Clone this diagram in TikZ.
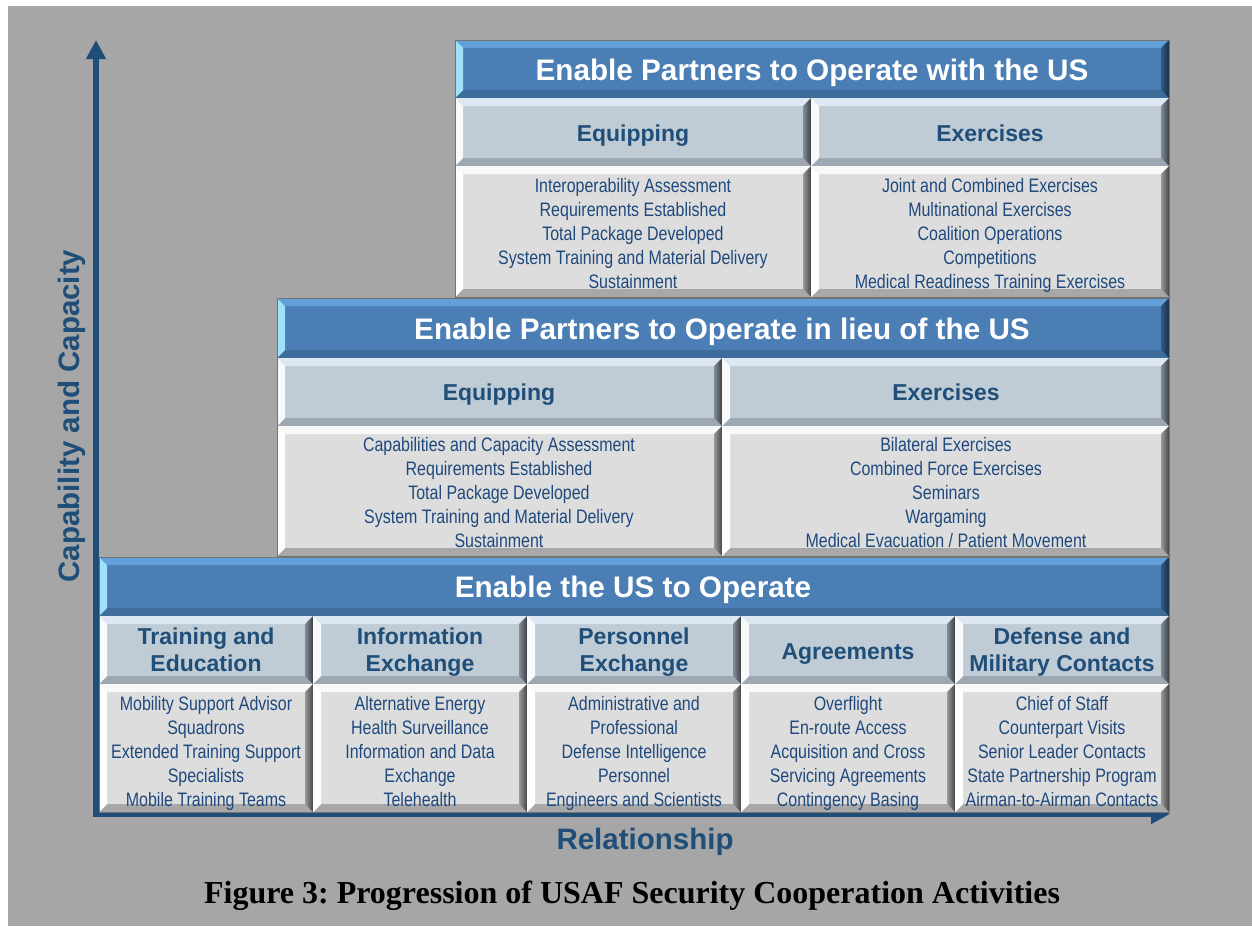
\documentclass[tikz,border=0pt]{standalone}
\usepackage{fontspec}
\setmainfont{Liberation Sans}
\newfontfamily\narrowfont[FakeStretch=0.82]{Liberation Sans}
\newfontfamily\capfont{Liberation Serif}
\usetikzlibrary{arrows.meta}

\definecolor{bggray}{RGB}{166,166,166}
\definecolor{axisblue}{RGB}{31,78,121}
\definecolor{itemblue}{RGB}{31,73,125}
% title bars
\definecolor{titlefill}{RGB}{74,126,180}
\definecolor{titletop}{RGB}{98,160,218}
\definecolor{titleleft}{RGB}{160,225,250}
\definecolor{titleright}{RGB}{24,46,70}
\definecolor{titlebot}{RGB}{62,108,155}
% column heads
\definecolor{headfill}{RGB}{191,203,213}
\definecolor{headtop}{RGB}{222,232,244}
\definecolor{headleft}{RGB}{248,250,252}
\definecolor{headright}{RGB}{60,64,70}
\definecolor{headbot}{RGB}{158,168,178}
% item cells
\definecolor{bodyfill}{RGB}{221,221,221}
\definecolor{bodytop}{RGB}{248,248,248}
\definecolor{bodyleft}{RGB}{255,255,255}
\definecolor{bodyright}{RGB}{70,70,70}
\definecolor{bodybot}{RGB}{168,168,168}

% bevelled cell: x1, y1 (top), x2, y2 (bottom), colour set
\def\bv{8}
\newcommand{\bevelcell}[5]{%
  \fill[#5fill] (#1,#2) rectangle (#3,#4);
  \fill[#5top] (#1,#2) -- (#3,#2) -- (#3-\bv,#2+\bv) -- (#1+\bv,#2+\bv) -- cycle;
  \fill[#5bot] (#1,#4) -- (#3,#4) -- (#3-\bv,#4-\bv) -- (#1+\bv,#4-\bv) -- cycle;
  \fill[#5left] (#1,#2) -- (#1+\bv,#2+\bv) -- (#1+\bv,#4-\bv) -- (#1,#4) -- cycle;
  \shade[left color=#5right!45!#5fill, right color=#5right]
    (#3,#2) -- (#3-\bv,#2+\bv) -- (#3-\bv,#4-\bv) -- (#3,#4) -- cycle;
}

\tikzset{
  strutted/.style={execute at begin node=\strut, execute at end node=\strut},
  bartitle/.style={font=\bfseries\fontsize{29.7}{32}\selectfont, text=white, inner sep=0, strutted},
  colhead/.style={font=\bfseries\fontsize{23}{27}\selectfont, text=axisblue, align=center, inner sep=0, strutted},
  itemlist/.style={font=\narrowfont\fontsize{19.5}{24}\selectfont, text=itemblue, align=center, inner sep=0, strutted},
  axislabel/.style={font=\bfseries\fontsize{29.5}{32}\selectfont, text=axisblue, inner sep=0},
  tierline/.style={draw=black!55, line width=1pt},
  axis/.style={draw=axisblue, line width=6pt, line join=miter,
    {Triangle[width=19pt,length=19pt]}-{Triangle[width=19pt,length=19pt]}},
}

\begin{document}
\begin{tikzpicture}[x=1pt,y=-1pt]
  \useasboundingbox (0,0) rectangle (1252,926);
  \fill[white] (0,0) rectangle (1252,926);
  \fill[bggray] (8,6) rectangle (1252,926);

  % axes
  \coordinate (origin) at (96,814);
  \coordinate (xtip) at (1170,814);
  \coordinate (ytip) at (96,40);
  \draw[axis] (xtip) -- (origin) -- (ytip);

  % top tier
  \bevelcell{455}{40}{1169}{98}{title}
  \bevelcell{455}{98}{811}{166}{head}
  \bevelcell{811}{98}{1169}{166}{head}
  \bevelcell{455}{166}{811}{297}{body}
  \bevelcell{811}{166}{1169}{297}{body}
  \draw[tierline] (455,40) rectangle (1169,297);

  % middle tier
  \bevelcell{277}{298}{1169}{358}{title}
  \bevelcell{277}{358}{722}{426}{head}
  \bevelcell{722}{358}{1169}{426}{head}
  \bevelcell{277}{426}{722}{556}{body}
  \bevelcell{722}{426}{1169}{556}{body}
  \draw[tierline] (277,298) rectangle (1169,556);

  % bottom tier
  \bevelcell{99}{557}{1169}{616}{title}
  \foreach \xa/\xb in {99/313, 313/527, 527/741, 741/955, 955/1169} {
    \bevelcell{\xa}{616}{\xb}{684}{head}
    \bevelcell{\xa}{684}{\xb}{812}{body}
  }
  \draw[tierline] (99,557) rectangle (1169,812);

  \node[bartitle] (withus) at (812,74) {Enable Partners to Operate with the US};
  \node[colhead] (withequiphead) at (633,136) {Equipping};
  \node[colhead] (withexerhead) at (990,136) {Exercises};
  \node[itemlist] (withequip) at (633,237) {Interoperability Assessment\\Requirements Established\\Total Package Developed\\System Training and Material Delivery\\Sustainment};
  \node[itemlist] (withexer) at (990,237) {Joint and Combined Exercises\\Multinational Exercises\\Coalition Operations\\Competitions\\Medical Readiness Training Exercises};

  \node[bartitle] (inlieu) at (722,333) {Enable Partners to Operate in lieu of the US};
  \node[colhead] (lieuequiphead) at (499,395) {Equipping};
  \node[colhead] (lieuexerhead) at (946,395) {Exercises};
  \node[itemlist] (lieuequip) at (499,496) {Capabilities and Capacity Assessment\\Requirements Established\\Total Package Developed\\System Training and Material Delivery\\Sustainment};
  \node[itemlist] (lieuexer) at (946,496) {Bilateral Exercises\\Combined Force Exercises\\Seminars\\Wargaming\\Medical Evacuation / Patient Movement};

  \node[bartitle] (usop) at (633,591) {Enable the US to Operate};
  \node[colhead] (trainhead) at (206,654) {Training and\\Education};
  \node[colhead] (infohead) at (420,654) {Information\\Exchange};
  \node[colhead] (pershead) at (634,654) {Personnel\\Exchange};
  \node[colhead] (agreehead) at (848,654) {Agreements};
  \node[colhead] (contacthead) at (1062,654) {Defense and\\Military Contacts};
  \node[itemlist] (train) at (206,755) {Mobility Support Advisor\\Squadrons\\Extended Training Support\\Specialists\\Mobile Training Teams};
  \node[itemlist] (info) at (420,755) {Alternative Energy\\Health Surveillance\\Information and Data\\Exchange\\Telehealth};
  \node[itemlist] (pers) at (634,755) {Administrative and\\Professional\\Defense Intelligence\\Personnel\\Engineers and Scientists};
  \node[itemlist] (agree) at (848,755) {Overflight\\En-route Access\\Acquisition and Cross\\Servicing Agreements\\Contingency Basing};
  \node[itemlist] (contact) at (1062,755) {Chief of Staff\\Counterpart Visits\\Senior Leader Contacts\\State Partnership Program\\Airman-to-Airman Contacts};

  \node[axislabel, rotate=90] (ylabel) at (72,416) {Capability and Capacity};
  \node[axislabel] (xlabel) at (645,842) {Relationship};
  \node[font=\capfont\bfseries\fontsize{32}{36}\selectfont, inner sep=0] (caption) at (632,896)
    {\frenchspacing Figure 3: Progression of USAF Security Cooperation Activities};
\end{tikzpicture}
\end{document}
